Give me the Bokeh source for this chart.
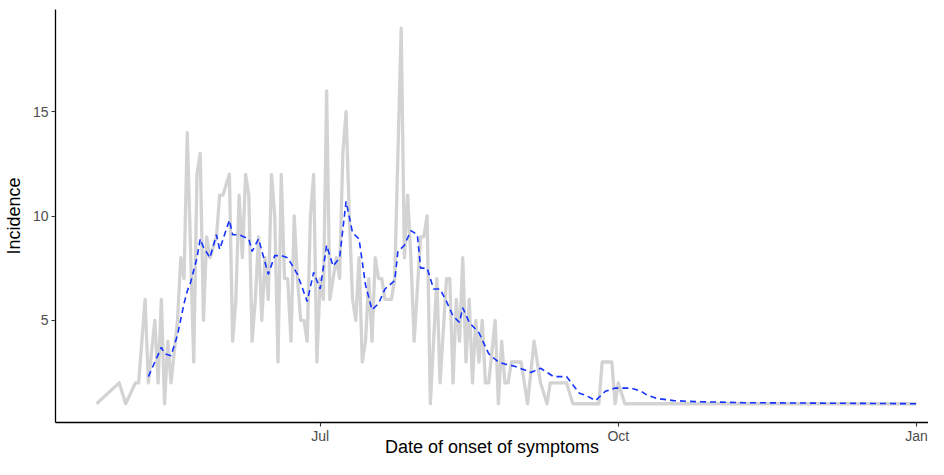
import pandas as pd
from bokeh.plotting import figure
from bokeh.models import Range1d, FixedTicker, DatetimeTickFormatter
from bokeh.embed import file_html
from bokeh.resources import INLINE

# ---------------- data ----------------
start_date = "2014-04-23"
tick_dates = ["2014-07-01", "2014-10-01", "2015-01-01"]
y_ticks = [5, 10, 15]

# daily incidence (days since start_date, number of cases)
case_day = [0, 7, 9, 12, 13, 15, 16, 18, 19, 20,
            21, 22, 23, 25, 26, 27, 28, 30, 31, 32,
            33, 34, 35, 37, 38, 39, 41, 42, 43, 44,
            45, 46, 47, 48, 49, 50, 51, 52, 53, 54,
            55, 56, 57, 58, 59, 60, 61, 62, 63, 64,
            65, 66, 67, 68, 69, 70, 71, 72, 74, 75,
            76, 77, 78, 79, 80, 81, 82, 83, 84, 85,
            86, 87, 88, 89, 91, 92, 94, 95, 96, 97,
            98, 100, 101, 102, 103, 105, 106, 108, 109, 110,
            111, 112, 113, 114, 115, 116, 117, 118, 119, 120,
            121, 123, 124, 125, 126, 127, 128, 130, 131, 133,
            135, 137, 139, 140, 145, 147, 155, 156, 159, 160,
            161, 163, 253]
case_count = [1, 2, 1, 2, 2, 6, 2, 5, 2, 6,
              1, 4, 2, 5, 8, 7, 14, 3, 12, 13,
              5, 9, 8, 9, 11, 11, 12, 4, 6, 11,
              8, 12, 11, 4, 6, 9, 5, 8, 6, 12,
              10, 3, 12, 7, 7, 4, 10, 7, 5, 5,
              4, 10, 12, 3, 7, 6, 16, 6, 8, 7,
              13, 15, 10, 6, 5, 8, 3, 4, 7, 4,
              8, 7, 7, 6, 6, 7, 19, 8, 11, 8,
              4, 9, 9, 10, 1, 7, 2, 7, 7, 2,
              6, 4, 8, 3, 6, 2, 5, 3, 5, 2,
              2, 5, 1, 4, 2, 2, 3, 3, 3, 1,
              4, 2, 1, 2, 2, 1, 1, 3, 3, 1,
              2, 1, 1]

# rolling mean (days since start_date, mean incidence)
roll_day = [16, 18, 20, 21, 23, 25, 27, 28, 29, 31,
            32, 33, 35, 37, 38, 41, 42, 44, 47, 48,
            50, 53, 55, 57, 59, 62, 65, 67, 69, 71,
            73, 75, 77, 79, 81, 83, 85, 87, 89, 92,
            93, 95, 97, 99, 100, 102, 104, 106, 108, 110,
            112, 113, 115, 118, 121, 124, 126, 129, 134, 137,
            141, 145, 149, 151, 154, 157, 160, 165, 168, 170,
            173, 178, 185, 200, 253]
roll_mean = [2.3, 3.0, 3.7, 3.4, 3.3, 4.3, 5.8, 6.4, 6.8, 8.0,
             8.9, 8.5, 8.0, 9.1, 8.4, 9.8, 9.1, 9.1, 8.9, 8.3,
             8.9, 7.2, 8.1, 8.1, 8.0, 7.2, 5.9, 7.3, 6.5, 8.6,
             7.6, 8.0, 10.7, 9.2, 8.9, 6.7, 5.5, 5.8, 6.5, 6.9,
             8.3, 8.6, 9.3, 9.1, 7.5, 7.5, 6.5, 6.5, 5.9, 5.2,
             4.9, 5.6, 4.9, 4.4, 3.4, 3.0, 2.9, 2.8, 2.5, 2.7,
             2.3, 2.3, 1.5, 1.4, 1.15, 1.6, 1.75, 1.75, 1.6, 1.4,
             1.25, 1.15, 1.1, 1.05, 1.0]

# ---------------- build ----------------
t0 = pd.Timestamp(start_date)
case_date = t0 + pd.to_timedelta(case_day, unit="D")
roll_date = t0 + pd.to_timedelta(roll_day, unit="D")

span = case_date.max() - case_date.min()
x_start = (case_date.min() - 0.05 * span).to_pydatetime()
x_end = (case_date.max() + 0.0146 * span).to_pydatetime()   # right side clipped as in reference
ymin, ymax = min(case_count), max(case_count)
ypad = 0.05 * (ymax - ymin)

FONT = "Liberation Sans"

p = figure(width=928, height=459, x_axis_type="datetime",
           x_range=Range1d(x_start, x_end),
           y_range=Range1d(ymin - ypad, ymax + ypad),
           output_backend="svg", toolbar_location=None,
           min_border_left=51, min_border_right=0,
           min_border_top=9, min_border_bottom=20)

p.outline_line_color = None
p.background_fill_color = "white"
p.border_fill_color = "white"
p.xgrid.grid_line_color = None
p.ygrid.grid_line_color = None

p.line(case_date, case_count, line_color="#D3D3D3", line_width=3.3,
       line_join="round")
p.line(roll_date, roll_mean, line_color="#1433FF", line_width=1.6,
       line_dash="6 4")

tick_ms = [pd.Timestamp(d).value / 1e6 for d in tick_dates]
p.xaxis.ticker = FixedTicker(ticks=tick_ms)
p.xaxis.formatter = DatetimeTickFormatter(days="%b", months="%b", years="%b",
                                          hours="%b", minutes="%b")
p.yaxis.ticker = FixedTicker(ticks=y_ticks)

p.xaxis.axis_label = "Date of onset of symptoms"
p.yaxis.axis_label = "Incidence"

for ax in (p.xaxis, p.yaxis):
    ax.axis_line_color = "black"
    ax.axis_line_width = 1.3
    ax.major_tick_line_color = "#333333"
    ax.major_tick_line_width = 1.1
    ax.major_tick_out = 4
    ax.major_tick_in = 0
    ax.minor_tick_line_color = None
    ax.major_label_text_color = "#4D4D4D"
    ax.major_label_text_font = FONT
    ax.major_label_text_font_size = "14px"
    ax.axis_label_text_font = FONT
    ax.axis_label_text_font_size = "18px"
    ax.axis_label_text_font_style = "normal"
    ax.axis_label_text_color = "black"

p.xaxis.major_label_standoff = 1
p.xaxis.axis_label_standoff = -10
p.yaxis.major_label_standoff = 3
p.yaxis.axis_label_standoff = 6

open("out.html", "w").write(file_html(p, INLINE))
